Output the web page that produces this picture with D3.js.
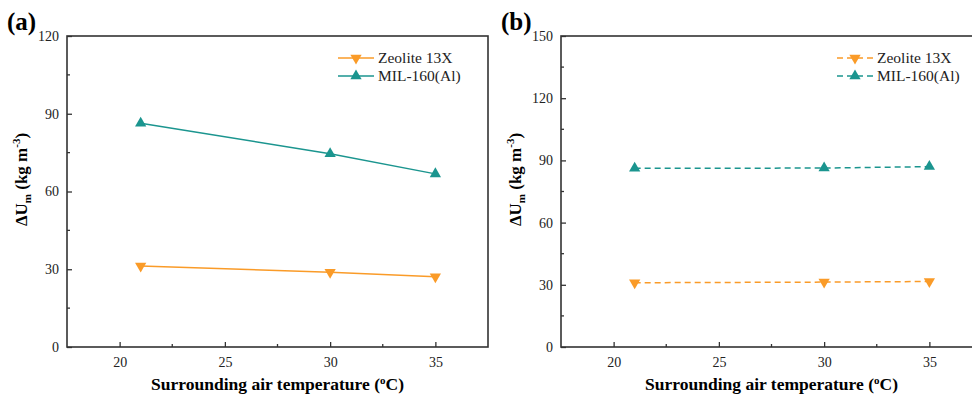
<!DOCTYPE html>
<html>
<head>
<meta charset="utf-8">
<script src="https://d3js.org/d3.v7.min.js"></script>
<style>
  body { margin: 0; background: #fff; }
  svg text { font-family: "Liberation Serif", "Times New Roman", "DejaVu Serif", serif !important; }
</style>
</head>
<body>
<svg id="canvas" width="972" height="395"></svg>
<script>
// temperatures (x) shared by both panels
let temps = [21, 30, 35];

// panel (a)
let zeoliteA = [31.3, 28.8, 27.1];
let milA = [86.3, 74.6, 66.8];
let yTicksA = [0, 30, 60, 90, 120];

// panel (b)
let zeoliteB = [31.0, 31.3, 31.6];
let milB = [86.2, 86.3, 87.0];
let yTicksB = [0, 30, 60, 90, 120, 150];

let xTicks = [20, 25, 30, 35];
let seriesNames = ["Zeolite 13X", "MIL-160(Al)"];

const orange = "#fa9b28";
const teal = "#1b958f";
const axisColor = "#333";

let svg = d3.select("#canvas");

function drawPanel(p) {
  let g = svg.append("g");
  let x = d3.scaleLinear().domain([17.5, 37.5]).range([p.left, p.left + 421]);
  let y = d3.scaleLinear().domain([0, p.yMax]).range([347, 36]);

  // major ticks point inward, minor ticks are drawn by hand below
  let xAxis = d3.axisBottom(x).tickValues(xTicks).tickSizeInner(-5).tickSizeOuter(0).tickPadding(10);
  let yAxis = d3.axisLeft(y).tickValues(p.yTicks).tickSizeInner(-5).tickSizeOuter(0).tickPadding(8);

  let minorX = xTicks.slice(0, -1).map(d => d + 2.5);
  let minorY = p.yTicks.slice(0, -1).map(d => d + p.yTicks[1] / 2);

  let gx = g.append("g").attr("transform", `translate(0,${y(0)})`).call(xAxis);
  let gy = g.append("g").attr("transform", `translate(${x(17.5)},0)`).call(yAxis);
  [gx, gy].forEach(a => {
    a.attr("font-family", null);
    a.select(".domain").remove();
    a.selectAll("line").attr("stroke", axisColor).attr("stroke-width", 1.3);
    a.selectAll("text").attr("fill", "#222").style("font-size", "14px");
  });

  g.selectAll(".mx").data(minorX).join("line")
    .attr("x1", d => x(d)).attr("x2", d => x(d))
    .attr("y1", y(0)).attr("y2", y(0) - 3)
    .attr("stroke", axisColor).attr("stroke-width", 1.3);
  g.selectAll(".my").data(minorY).join("line")
    .attr("x1", x(17.5)).attr("x2", x(17.5) + 3)
    .attr("y1", d => y(d)).attr("y2", d => y(d))
    .attr("stroke", axisColor).attr("stroke-width", 1.3);

  // frame
  g.append("rect")
    .attr("x", x(17.5)).attr("y", y(p.yMax))
    .attr("width", x(37.5) - x(17.5)).attr("height", y(0) - y(p.yMax))
    .attr("fill", "none").attr("stroke", axisColor).attr("stroke-width", 1.6);

  let line = d3.line().x((d, i) => x(temps[i])).y(d => y(d));
  let series = [
    { name: seriesNames[0], vals: p.zeolite, color: orange, rot: 180 },
    { name: seriesNames[1], vals: p.mil, color: teal, rot: 0 }
  ];
  let tri = d3.symbol().type(d3.symbolTriangle).size(55);

  series.forEach(s => {
    g.append("path").datum(s.vals)
      .attr("d", line).attr("fill", "none")
      .attr("stroke", s.color).attr("stroke-width", 1.5)
      .attr("stroke-dasharray", p.dash ? "6,4" : null);
    g.selectAll(null).data(s.vals).join("path")
      .attr("d", tri)
      .attr("transform", (d, i) => `translate(${x(temps[i])},${y(d)}) rotate(${s.rot})`)
      .attr("fill", s.color);
  });

  // legend
  series.forEach((s, i) => {
    let ly = 58 + i * 18;
    let lx = x(17.5) + p.legendX;
    g.append("line")
      .attr("x1", lx).attr("x2", lx + 36).attr("y1", ly).attr("y2", ly)
      .attr("stroke", s.color).attr("stroke-width", 1.5)
      .attr("stroke-dasharray", p.dash ? "6,4" : null);
    g.append("path").attr("d", tri)
      .attr("transform", `translate(${lx + 18},${ly}) rotate(${s.rot})`)
      .attr("fill", s.color);
    g.append("text").attr("x", lx + 40).attr("y", ly + 5)
      .style("font-size", "15.5px").attr("fill", "#222").text(s.name);
  });

  // panel letter
  g.append("text").attr("x", p.left - 60).attr("y", 30)
    .style("font-size", "25px").style("font-weight", "bold").text(p.letter);

  // x label
  let xl = g.append("text").attr("x", (x(17.5) + x(37.5)) / 2).attr("y", 390)
    .attr("text-anchor", "middle").style("font-size", "17.5px").style("font-weight", "bold");
  xl.append("tspan").text("Surrounding air temperature (");
  xl.append("tspan").attr("dy", -6).style("font-size", "11px").text("o");
  xl.append("tspan").attr("dy", 6).text("C)");

  // y label
  let yl = g.append("text")
    .attr("transform", `translate(${p.left - 40},${y(p.yMax / 2) - 12}) rotate(-90)`)
    .attr("text-anchor", "middle").style("font-size", "17px").style("font-weight", "bold");
  yl.append("tspan").text("\u0394U");
  yl.append("tspan").attr("dy", 4).style("font-size", "11px").text("m");
  yl.append("tspan").attr("dy", -4).text(" (kg m");
  yl.append("tspan").attr("dy", -7).style("font-size", "11px").text("-3");
  yl.append("tspan").attr("dy", 7).text(")");
}

drawPanel({ left: 67, yMax: 120, yTicks: yTicksA, zeolite: zeoliteA, mil: milA,
  dash: false, letter: "(a)", legendX: 271 });
drawPanel({ left: 561, yMax: 150, yTicks: yTicksB, zeolite: zeoliteB, mil: milB,
  dash: true, letter: "(b)", legendX: 276 });
</script>
</body>
</html>
